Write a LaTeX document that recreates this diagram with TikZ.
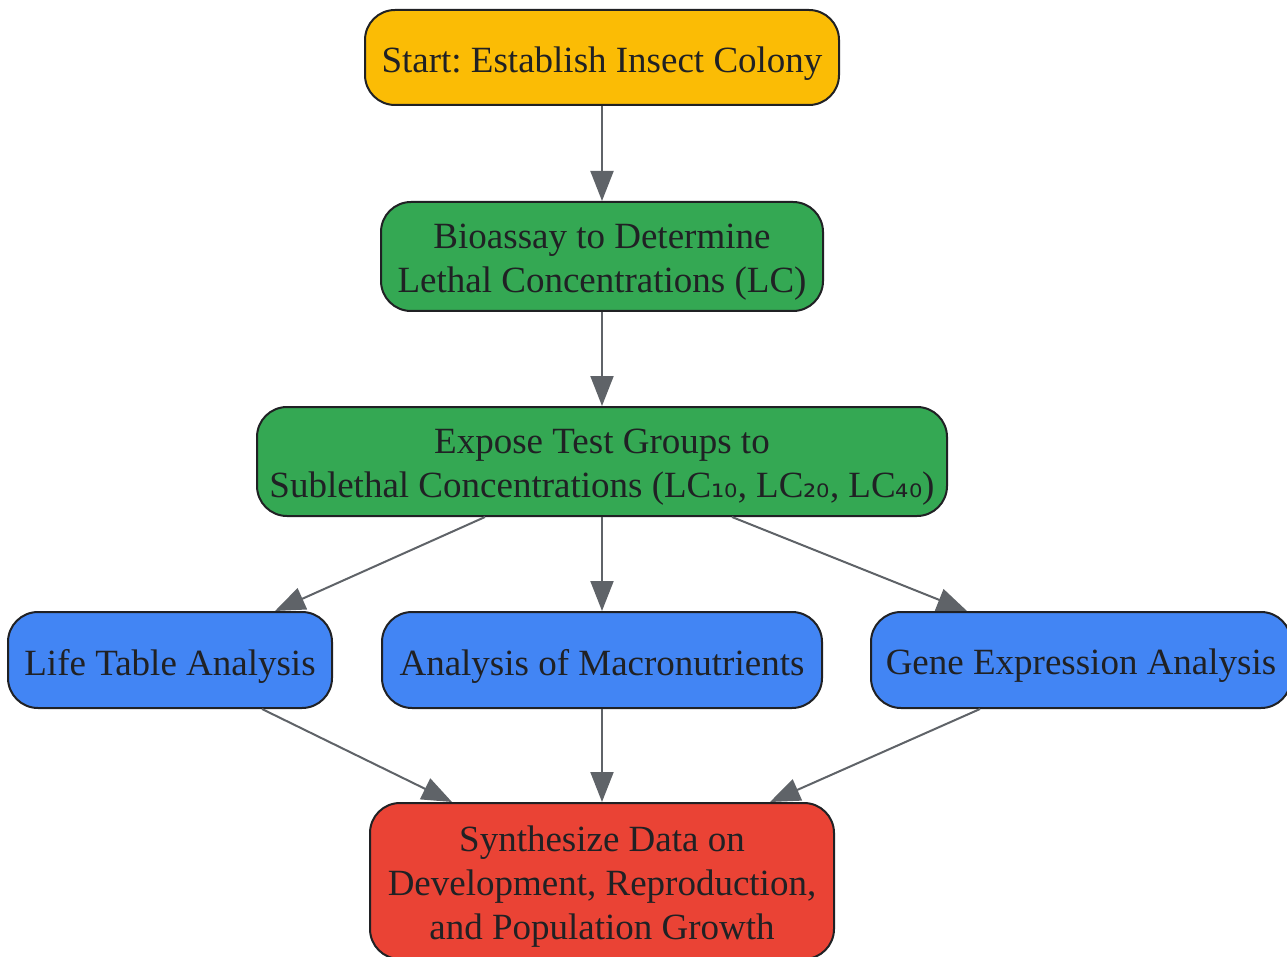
\documentclass[tikz,border=0pt]{standalone}
\usepackage{fontspec}
\setmainfont{Liberation Serif}
\newfontfamily\subfont{DejaVu Sans}
\usetikzlibrary{arrows.meta,calc}
\definecolor{cyellow}{HTML}{FBBC05}
\definecolor{cgreen}{HTML}{34A853}
\definecolor{cblue}{HTML}{4285F4}
\definecolor{cred}{HTML}{EA4335}
\definecolor{cline}{HTML}{5F6368}
\definecolor{ctext}{HTML}{202124}
\newcommand{\sbs}[1]{{\subfont\fontsize{33}{33}\selectfont #1}}
\frenchspacing
\begin{document}
\begin{tikzpicture}[x=1pt,y=-1pt,
  box/.style={draw=ctext,line width=2pt,rounded corners=30pt,inner sep=0pt},
  lbl/.style={align=center,text=ctext,inner sep=0pt,yshift=-6pt,font=\fontsize{37}{44}\selectfont\frenchspacing},
  conn/.style={draw=cline,line width=2pt,-{Triangle[length=30pt,width=23pt]}}]
\useasboundingbox (0,0) rectangle (1287,957);
\node[box,fill=cyellow,minimum width=474pt,minimum height=95pt,
  label={[lbl]center:Start: Establish Insect Colony}] (start) at (602,57.5) {};
\node[box,fill=cgreen,minimum width=442pt,minimum height=109pt,
  label={[lbl]center:Bioassay to Determine\\Lethal Concentrations (LC)}] (bio) at (602,256.5) {};
\node[box,fill=cgreen,minimum width=690pt,minimum height=109pt,
  label={[lbl]center:Expose Test Groups to\\Sublethal Concentrations (LC\sbs{₁₀}, LC\sbs{₂₀}, LC\sbs{₄₀})}] (expose) at (602,461.5) {};
\node[box,fill=cblue,minimum width=324pt,minimum height=96pt,
  label={[lbl]center:Life Table Analysis}] (life) at (170,660) {};
\node[box,fill=cblue,minimum width=440pt,minimum height=96pt,
  label={[lbl]center:Analysis of Macronutrients}] (macro) at (602,660) {};
\node[box,fill=cblue,minimum width=420pt,minimum height=96pt,
  label={[lbl]center:Gene Expression Analysis}] (gene) at (1081,660) {};
\node[box,fill=cred,minimum width=464pt,minimum height=156pt,
  label={[lbl]center:Synthesize Data on\\Development, Reproduction,\\and Population Growth}] (synth) at (602,881) {};
\draw[conn] (start.south) -- (bio.north);
\draw[conn] (bio.south) -- (expose.north);
\draw[conn] ($(expose.south)+(-117,0)$) -- ($(life.north)+(105,0)$);
\draw[conn] (expose.south) -- (macro.north);
\draw[conn] ($(expose.south)+(130,0)$) -- ($(gene.north)+(-114,0)$);
\draw[conn] ($(life.south)+(92,0)$) -- ($(synth.north)+(-150,0)$);
\draw[conn] (macro.south) -- (synth.north);
\draw[conn] ($(gene.south)+(-101,0)$) -- ($(synth.north)+(168,0)$);
\end{tikzpicture}
\end{document}
